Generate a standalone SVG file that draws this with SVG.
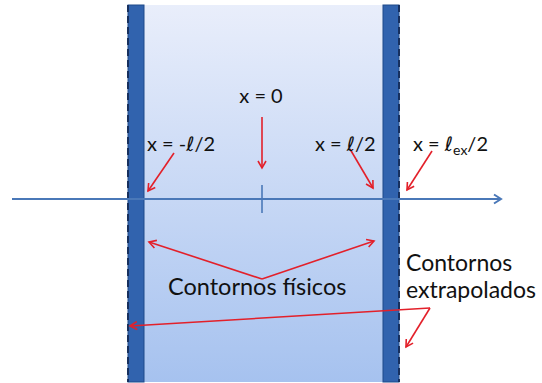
<svg xmlns="http://www.w3.org/2000/svg" width="542" height="383" viewBox="0 0 542 383">
<style>
.t{font-family:"Lato","Liberation Sans",sans-serif;fill:#111;}
.l{font-family:"DejaVu Sans","Liberation Sans",sans-serif;font-style:italic;}
.red{stroke:#e3202a;stroke-width:1.6;fill:none;marker-end:url(#rh);}
.bar{fill:#3163ae;stroke:#1f4a8a;stroke-width:1;}
.dash{stroke:#17305e;stroke-width:2;stroke-dasharray:7,4;}
</style>
<defs>
<linearGradient id="g" x1="0" y1="0" x2="0" y2="1">
<stop offset="0" stop-color="#e9eefb"/>
<stop offset="1" stop-color="#a6c2ef"/>
</linearGradient>
<marker id="rh" markerWidth="10" markerHeight="10" refX="8" refY="5" orient="auto" markerUnits="userSpaceOnUse">
<path d="M1,1 L8,5 L1,9" fill="none" stroke="#e3202a" stroke-width="1.6"/>
</marker>
<marker id="bh" markerWidth="12" markerHeight="12" refX="9" refY="6" orient="auto" markerUnits="userSpaceOnUse">
<path d="M2,1.5 L9,6 L2,10.5" fill="none" stroke="#4a78b8" stroke-width="2"/>
</marker>
</defs>
<g id="slab">
<rect x="144" y="5" width="239" height="377" fill="url(#g)"/>
</g>
<g id="left-boundary">
<rect class="bar" x="128" y="5" width="16" height="377"/>
<line class="dash" x1="128" y1="5" x2="128" y2="382"/>
</g>
<g id="right-boundary">
<rect class="bar" x="383" y="5" width="16" height="377"/>
<line class="dash" x1="399" y1="5" x2="399" y2="382"/>
</g>
<g id="connectors">
<line x1="12" y1="199" x2="501" y2="199" stroke="#4a78b8" stroke-width="2" marker-end="url(#bh)"/>
<line x1="262" y1="185" x2="262" y2="213" stroke="#4a78b8" stroke-width="1.6"/>
<line class="red" x1="262" y1="117" x2="262" y2="168"/>
<line class="red" x1="174" y1="153" x2="148" y2="191"/>
<line class="red" x1="350" y1="149" x2="373" y2="188"/>
<line class="red" x1="432" y1="151" x2="407" y2="190"/>
<polyline class="red" points="262,279 149,242"/>
<polyline class="red" points="262,279 374,241"/>
<polyline class="red" points="430,308 130,326"/>
<polyline class="red" points="430,308 406,347"/>
</g>
<g id="label-x0"><text class="t" x="261" y="103" font-size="20" text-anchor="middle">x = 0</text></g>
<g id="label-xneg"><text class="t" x="147" y="151" font-size="20">x = -<tspan class="l">ℓ</tspan>/2</text></g>
<g id="label-xpos"><text class="t" x="315" y="151" font-size="20">x = <tspan class="l">ℓ</tspan>/2</text></g>
<g id="label-xex"><text class="t" x="413" y="151" font-size="20">x = <tspan class="l">ℓ</tspan><tspan font-size="14" dy="4">ex</tspan><tspan dy="-4">/2</tspan></text></g>
<g id="label-fisicos"><text class="t" x="168" y="295" font-size="23.5">Contornos físicos</text></g>
<g id="label-extrap"><text class="t" x="406" y="271" font-size="23">Contornos</text><text class="t" x="406" y="298" font-size="23">extrapolados</text></g>
</svg>
